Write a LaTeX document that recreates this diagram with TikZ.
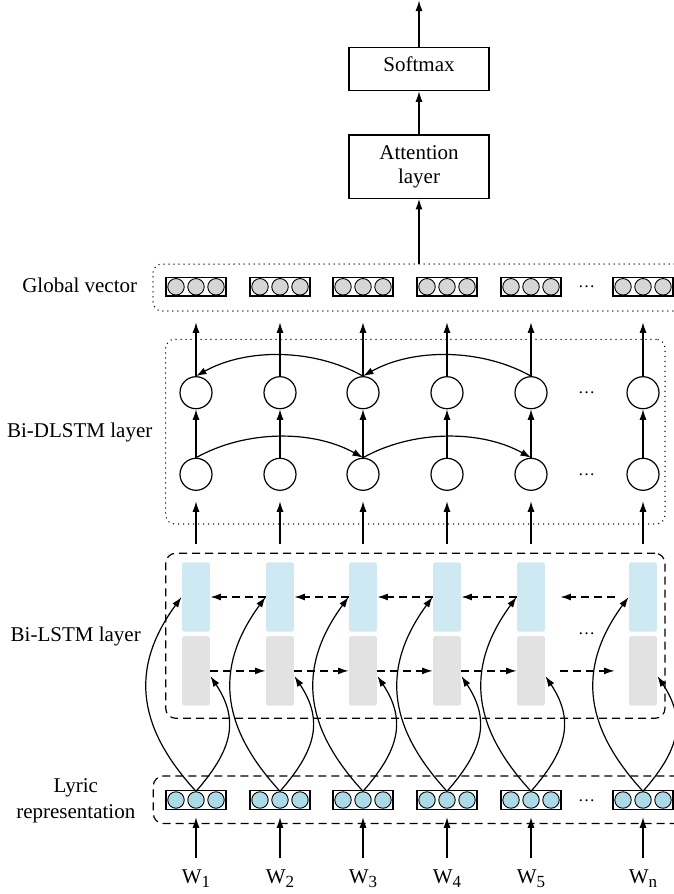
\documentclass[tikz,border=0pt]{standalone}
\usepackage{fontspec}
\setmainfont{Liberation Serif}
\usetikzlibrary{arrows.meta}
\definecolor{gvfill}{RGB}{214,214,214}
\definecolor{lyfill}{RGB}{170,219,230}
\definecolor{bwblue}{RGB}{206,233,242}
\definecolor{fwgray}{RGB}{226,226,226}
\begin{document}
\begin{tikzpicture}[x=1pt,y=-1pt,line width=1.2pt,
  arr/.style={-{Latex[length=10.5pt,width=7pt]}},
  dasharr/.style={arr, dash pattern=on 8pt off 5pt},
  dotframe/.style={draw, line width=1.5pt, line cap=round, dash pattern=on 0pt off 5pt,
    rounded corners=9pt, inner sep=0pt, outer sep=0pt},
  dashframe/.style={draw, dash pattern=on 8pt off 5pt, rounded corners=10pt,
    inner sep=0pt, outer sep=0pt},
  vecbox/.style={draw, minimum width=60pt, minimum height=18.5pt, inner sep=0pt},
  gvdot/.style={circle, draw, line width=0.9pt, fill=gvfill, minimum size=16.5pt, inner sep=0pt},
  lydot/.style={gvdot, fill=lyfill},
  cell/.style={circle, draw, minimum size=32pt, inner sep=0pt},
  bwcell/.style={fill=bwblue, rounded corners=2pt, minimum width=27.7pt,
    minimum height=69.4pt, inner sep=0pt},
  fwcell/.style={bwcell, fill=fwgray},
  txt/.style={font=\fontsize{21}{24}\selectfont, inner sep=0pt},
  ell/.style={font=\fontsize{17}{17}\selectfont, inner sep=0pt, anchor=base},
  topbox/.style={draw, txt, minimum width=140pt, align=center}
]
\useasboundingbox (0,0) rectangle (674,894);
\clip (0,0) rectangle (674,894);

% frames around the layers
\node[dotframe, minimum width=560pt, minimum height=47pt] (gvframe) at (433,287.5) {};
\node[dotframe, minimum width=499.3pt, minimum height=184.7pt] (dlframe) at (415.35,431.65) {};
\node[dashframe, minimum width=499.3pt, minimum height=165pt] (lsframe) at (415.35,635.8) {};
\node[dashframe, minimum width=560pt, minimum height=47.5pt] (lyframe) at (433.3,799.75) {};

% layer labels
\node[txt, anchor=base] (lab-gv) at (79.7,292.7) {Global vector};
\node[txt, anchor=base] (lab-dl) at (79.7,437.5) {Bi-DLSTM layer};
\node[txt, anchor=base] (lab-ls) at (75.7,641.7) {Bi-LSTM layer};
\node[txt, align=center, font=\fontsize{21}{25.6}\selectfont] (lab-ly) at (75.8,800.6) {Lyric\\representation};

% attention and softmax
\node[topbox, minimum height=43.4pt, text height=14.3pt, text depth=8.9pt] (soft) at (419,69) {Softmax};
\node[topbox, minimum height=63.3pt] (att) at (419,166.7) {Attention\\layer};
\coordinate (out) at (419,0.5);
\draw[arr] (soft.north) -- (out);
\draw[arr] (att.north) -- (soft.south);
\draw[arr] (att.south |- gvframe.north) -- (att.south);

% columns
\foreach \i/\x in {1/196,2/280,3/363,4/447,5/531,6/643}{
  % global vector
  \node[vecbox] (gv\i) at (\x,286.8) {};
  \node[gvdot] (gv\i-a) at (\x-20,286.8) {};
  \node[gvdot] (gv\i-b) at (\x,286.8) {};
  \node[gvdot] (gv\i-c) at (\x+20,286.8) {};
  % Bi-DLSTM cells
  \node[cell] (tc\i) at (\x,392.7) {};
  \node[cell] (bc\i) at (\x,474.3) {};
  % Bi-LSTM cells
  \node[bwcell] (bl\i) at (\x,597) {};
  \node[fwcell] (gr\i) at (\x,670.9) {};
  % lyric representation
  \node[vecbox] (ly\i) at (\x,800) {};
  \node[lydot] (ly\i-a) at (\x-20,800) {};
  \node[lydot] (ly\i-b) at (\x,800) {};
  \node[lydot] (ly\i-c) at (\x+20,800) {};
  \coordinate (in\i) at (\x,858.3);
  % vertical connections
  \draw[arr, shorten >=25.7pt] (tc\i.north) -- (gv\i.south);
  \draw[arr] (bc\i.north) -- (tc\i.south);
  \draw[arr, shorten <=17.3pt, shorten >=10.4pt] (bl\i.north) -- (bc\i.south);
  \draw[arr, shorten >=7.4pt] (in\i) -- (ly\i.south);
  % embeddings feeding both directions
  \draw[arr] (ly\i-b.north) .. controls +(-55,-60) and +(-55,75) .. (bl\i.west);
  \draw[arr] (ly\i-b.north) .. controls +(35,-40) and +(30,45) .. (gr\i.-20);
}

% recurrent connections of the Bi-LSTM layer
\foreach \i/\j in {1/2,2/3,3/4,4/5}{
  \draw[dasharr] (bl\j.west) -- (bl\i.east);
  \draw[dasharr] (gr\i.east) -- (gr\j.west);
}
\draw[dasharr, shorten <=14pt, shorten >=15pt] (bl6.west) -- (bl5.east);
\draw[dasharr, shorten <=15pt, shorten >=14pt] (gr5.east) -- (gr6.west);

% skip connections of the Bi-DLSTM layer
\draw[arr] (tc3.north) .. controls +(-50,-28) and +(50,-28) .. (tc1.north);
\draw[arr] (tc5.north) .. controls +(-50,-28) and +(50,-28) .. (tc3.north);
\draw[arr] (bc1.north) .. controls +(50,-28) and +(-50,-28) .. (bc3.north);
\draw[arr] (bc3.north) .. controls +(50,-28) and +(-50,-28) .. (bc5.north);

% ellipses
\node[ell] (gv-dots) at (586.7,287) {…};
\node[ell] (tc-dots) at (586.7,393.5) {…};
\node[ell] (bc-dots) at (586.7,475) {…};
\node[ell] (ls-dots) at (586.7,634.5) {…};
\node[ell] (ly-dots) at (586.7,801.5) {…};

% inputs
\foreach \i/\x/\s in {1/196/1,2/280/2,3/363/3,4/447/4,5/531/5,6/643/n}{
  \node[txt, anchor=base] (w\i) at (\x,883.3) {W\raisebox{-4pt}{\fontsize{17}{17}\selectfont\s}};
}
\end{tikzpicture}
\end{document}
